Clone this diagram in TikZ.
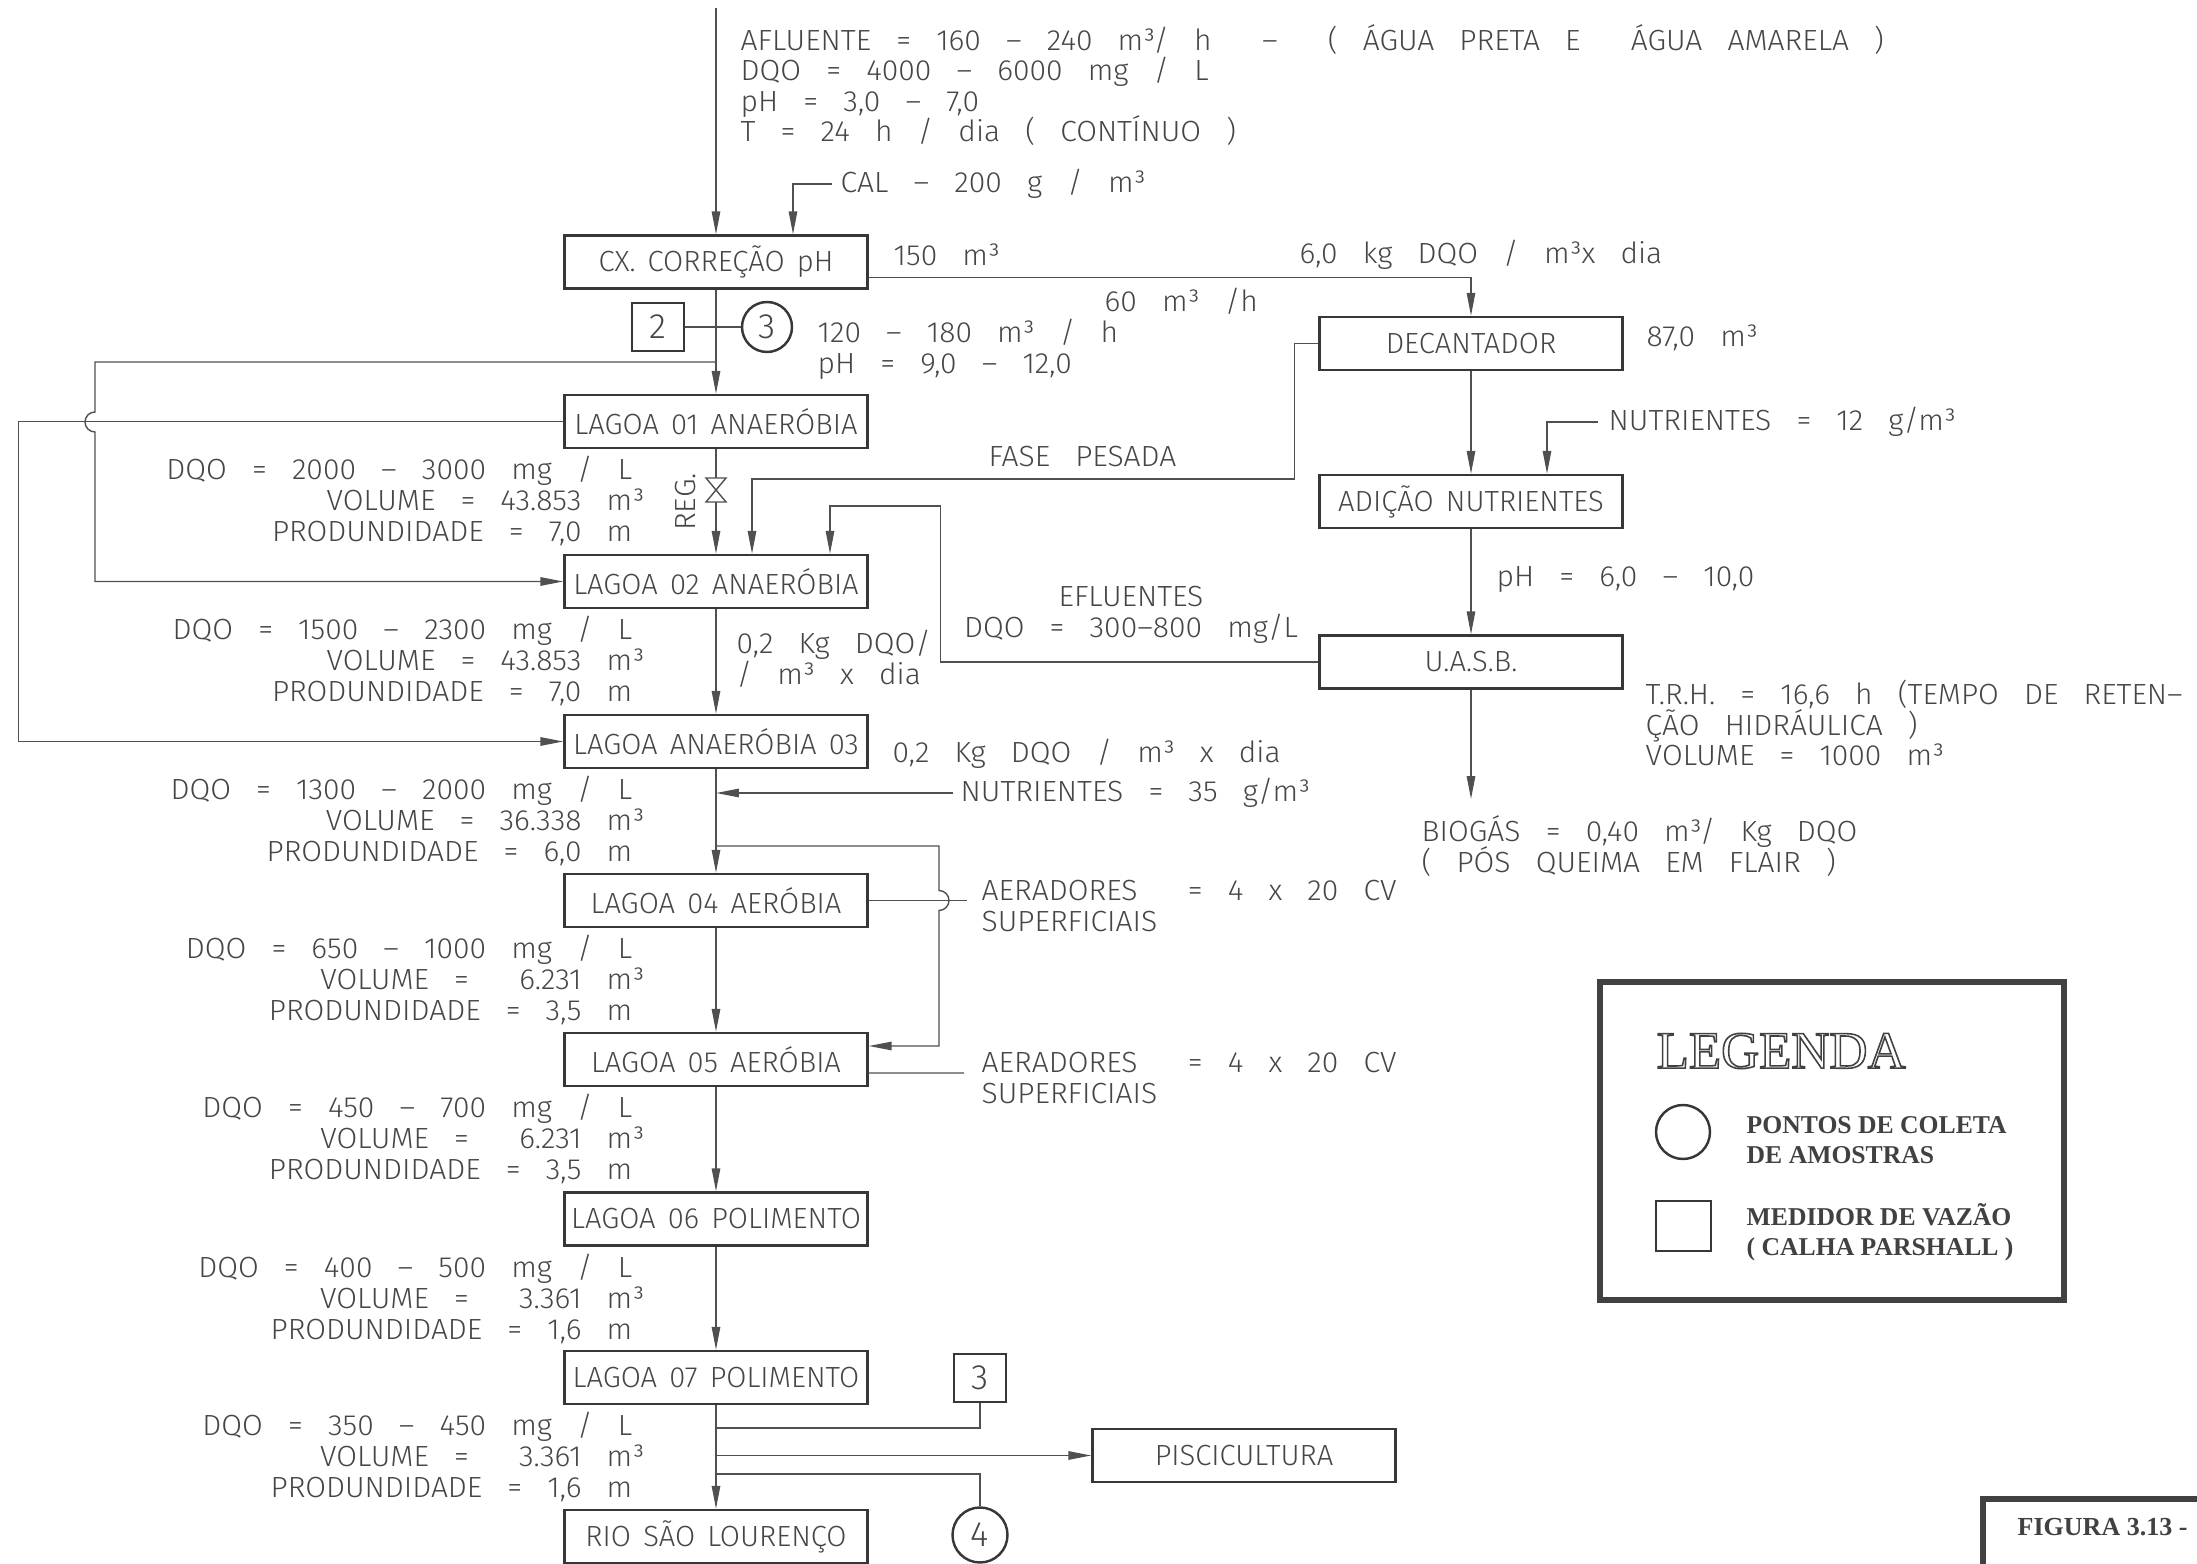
\documentclass[tikz,border=0pt]{standalone}
\usepackage{fontspec}
\usepackage{tikz}
\usetikzlibrary{
  arrows.meta,
  positioning
}
\newfontfamily\cadfont{Fira Sans Light}[WordSpace=3.0,FakeStretch=1.03]
\newfontfamily\boxfont{Fira Sans Light}[WordSpace=1.5]
\newfontfamily\legendfont{Liberation Serif}
\lineskiplimit=-100pt
\newcommand\hollowtext[1]{\special{pdf:literal q 1 Tr 0.45 w}#1\special{pdf:literal Q}}
\definecolor{linecolor}{RGB}{80,80,80}
\definecolor{boxcolor}{RGB}{55,55,55}
\definecolor{labelcolor}{RGB}{70,70,70}
\definecolor{legendcolor}{RGB}{65,65,65}
\tikzset{
blocktext/.style={
  font=\cadfont\fontsize{8.3}{8.7}\selectfont,
  text=labelcolor
},
lagoablock/.style={
  draw=boxcolor,
  line width=0.7pt,
  minimum width=30.3mm,
  minimum height=5.3mm,
  inner sep=0pt,
  font=\boxfont\fontsize{8.3}{8.7}\selectfont,
  text=labelcolor
},
note/.style={
  blocktext,
  inner sep=0pt,
  align=left,
  anchor=west
},
datanote/.style={
  blocktext,
  inner sep=0pt,
  align=right,
  anchor=east
},
meter/.style={
  draw=boxcolor,
  line width=0.7pt,
  minimum width=5.2mm,
  minimum height=4.8mm,
  inner sep=0pt,
  font=\boxfont\fontsize{10}{11}\selectfont,
  text=labelcolor
},
sample/.style={
  draw=boxcolor,
  circle,
  line width=0.7pt,
  minimum size=5mm,
  inner sep=0pt,
  font=\boxfont\fontsize{10}{11}\selectfont,
  text=labelcolor
},
pipe/.style={
  line width=0.4pt,
  draw=linecolor
},
arrow/.style={
  pipe,
  -{Triangle[length=6.5pt,width=2.4pt]}
},
legendframe/.style={
  draw=legendcolor,
  line width=1.7pt,
  inner sep=0pt
},
legendtitle/.style={
  font=\legendfont\fontsize{15}{17}\selectfont,
  text=legendcolor,
  anchor=west,
  inner sep=0pt
},
legendtext/.style={
  font=\legendfont\bfseries\fontsize{7.3}{8.5}\selectfont,
  text=legendcolor,
  align=left,
  anchor=west,
  inner sep=0pt
}
}

\begin{document}
\begin{tikzpicture}[x=0.1mm,y=-0.1mm]
\useasboundingbox (0,0) rectangle (2197,1564);
\clip (0,0) rectangle (2197,1564);

% main line of lagoons
\node[lagoablock] (cx) at (716,262) {CX. CORREÇÃO pH};
\node[lagoablock] (l1) at (716,421.5) {LAGOA 01 ANAERÓBIA};
\node[lagoablock] (l2) at (716,581.5) {LAGOA 02 ANAERÓBIA};
\node[lagoablock] (l3) at (716,741.5) {LAGOA ANAERÓBIA 03};
\node[lagoablock] (l4) at (716,900.5) {LAGOA 04 AERÓBIA};
\node[lagoablock] (l5) at (716,1059.5) {LAGOA 05 AERÓBIA};
\node[lagoablock] (l6) at (716,1219) {LAGOA 06 POLIMENTO};
\node[lagoablock] (l7) at (716,1377.5) {LAGOA 07 POLIMENTO};
\node[lagoablock] (rio) at (716,1536.5) {RIO SÃO LOURENÇO};

% decanter / UASB branch
\node[lagoablock] (dec) at (1471,343.5) {DECANTADOR};
\node[lagoablock] (nut) at (1471,501.5) {ADIÇÃO NUTRIENTES};
\node[lagoablock] (uasb) at (1471,662) {U.A.S.B.};
\node[lagoablock] (pisc) at (1244,1455.5) {PISCICULTURA};

% inflow
\coordinate (inflow) at (716,8);
\node[note] (afluente) at (740,85) {AFLUENTE = 160 – 240 m³/ h \ – \ ( ÁGUA PRETA E \ ÁGUA AMARELA )\\DQO = 4000 – 6000 mg / L\\pH = 3,0 – 7,0\\T = 24 h / dia ( CONTÍNUO )};
\draw[arrow] (inflow) -- (cx.north);
\node[note] (cal) at (840,184) {CAL – 200 g / m³};
\draw[arrow] ([xshift=-0.8mm]cal.west) -| ([xshift=7.7mm]cx.north);

% to decanter
\node[note] (vol150) at (893,255) {150 m³};
\node[note] (carga60) at (1299,255) {6,0 kg DQO / m³x dia};
\node[note] (vazao60) at (1104,301) {60 m³ /h};
\draw[arrow] ([yshift=-1.55mm]cx.east) -| (dec.north);
\node[note] (vol87) at (1646,338) {87,0 m³};
\draw[arrow] (dec.south) -- (nut.north);
\node[note] (nut12) at (1608,422) {NUTRIENTES = 12 g/m³};
\draw[arrow] ([xshift=-1mm]nut12.west) -| ([xshift=7.6mm]nut.north);
\node[note] (phuasb) at (1496,580) {pH = 6,0 – 10,0};
\draw[arrow] (nut.south) -- (uasb.north);
\node[note] (trh) at (1645,723) {T.R.H. = 16,6 h (TEMPO DE RETEN–\\ÇÃO HIDRÁULICA )\\VOLUME = 1000 m³};
\coordinate (biogas) at (1471,799);
\draw[arrow] (uasb.south) -- (biogas);
\node[note] (biotext) at (1421,846) {BIOGÁS = 0,40 m³/ Kg DQO\\( PÓS QUEIMA EM FLAIR )};

% meters after pH correction
\node[meter] (m2) at (658,327) {2};
\node[sample] (c3) at (767,327) {3};
\draw[arrow] (cx.south) -- (l1.north);
\draw[pipe] (m2.east) -- (c3.west);
\node[note] (vazao120) at (817,349) {120 – 180 m³ / h\\pH = 9,0 – 12,0};

% recirculation to lagoons 02 and 03
\coordinate (recirc) at (716,362);
\draw[arrow] (recirc) -- ++(-621,0) -- ++(0,50) arc[start angle=270,end angle=90,radius=10] |- (l2.west);
\draw[arrow] (l1.west) -- ++(-545,0) |- (l3.west);

% lagoon 01 -> 02 with valve
\draw[arrow] (l1.south) -- (l2.north);
\coordinate (valve) at (716,490);
\draw[pipe, fill=white] ([shift={(-10,-12)}]valve) -- ++(20,0) -- ++(-20,24) -- ++(20,0) -- cycle;
\node[blocktext, rotate=90, inner sep=0pt] (reg) at (686,502) {REG.};

% returns from decanter and UASB
\draw[arrow] (dec.west) -- ++(-24,0) -- ++(0,135.5) -| ([xshift=3.6mm]l2.north);
\node[note] (fase) at (988,457) {FASE PESADA};
\draw[arrow] (uasb.west) -- ++(-378,0) -- ++(0,-156) -| ([xshift=11.4mm]l2.north);
\node[blocktext, align=center, inner sep=0pt] (efl) at (1131,615) {EFLUENTES\\DQO = 300–800 mg/L};

% lagoon data
\node[datanote] (dados1) at (633,501) {DQO = 2000 – 3000 mg / L\\VOLUME = 43.853 m\rlap{³}\\PRODUNDIDADE = 7,0 m};
\node[datanote] (dados2) at (633,661) {DQO = 1500 – 2300 mg / L\\VOLUME = 43.853 m\rlap{³}\\PRODUNDIDADE = 7,0 m};
\node[datanote] (dados3) at (633,821) {DQO = 1300 – 2000 mg / L\\VOLUME = 36.338 m\rlap{³}\\PRODUNDIDADE = 6,0 m};
\node[datanote] (dados4) at (633,980) {DQO = 650 – 1000 mg / L\\VOLUME = \ 6.231 m\rlap{³}\\PRODUNDIDADE = 3,5 m};
\node[datanote] (dados5) at (633,1139) {DQO = 450 – 700 mg / L\\VOLUME = \ 6.231 m\rlap{³}\\PRODUNDIDADE = 3,5 m};
\node[datanote] (dados6) at (633,1299) {DQO = 400 – 500 mg / L\\VOLUME = \ 3.361 m\rlap{³}\\PRODUNDIDADE = 1,6 m};
\node[datanote] (dados7) at (633,1457) {DQO = 350 – 450 mg / L\\VOLUME = \ 3.361 m\rlap{³}\\PRODUNDIDADE = 1,6 m};

% lagoons 02 -> 03 -> 04
\draw[arrow] (l2.south) -- (l3.north);
\node[note] (carga02) at (736,659) {0,2 Kg DQO/\\/ m³ x dia};
\node[note] (carga03) at (892,754) {0,2 Kg DQO / m³ x dia};
\draw[arrow] (l3.south) -- (l4.north);
\node[note] (nut35) at (960,793) {NUTRIENTES = 35 g/m³};
\draw[arrow] ([xshift=-0.7mm]nut35.west) -- (nut35.west -| l3.south);

% aerated lagoons
\coordinate (aer) at (716,846);
\draw[arrow] (aer) -- ++(223,0) -- ++(0,44.5) arc[start angle=-90,end angle=90,radius=10] |- ([yshift=1.35mm]l5.east);
\coordinate (aer4end) at (967,900.5);
\draw[pipe] (l4.east) -- (aer4end);
\node[note] (aer4) at (981,906) {AERADORES \ = 4 x 20 CV\\SUPERFICIAIS};
\draw[arrow] (l4.south) -- (l5.north);
\coordinate (aer5end) at (964,1073);
\draw[pipe] ([yshift=-1.35mm]l5.east) -- (aer5end);
\node[note] (aer5) at (981,1078) {AERADORES \ = 4 x 20 CV\\SUPERFICIAIS};
\draw[arrow] (l5.south) -- (l6.north);
\draw[arrow] (l6.south) -- (l7.north);
\draw[arrow] (l7.south) -- (rio.north);

% final outlets
\node[meter] (m3) at (980,1378) {3};
\node[sample, minimum size=5.5mm] (c4) at (980,1535) {4};
\coordinate (out1) at (716,1428);
\coordinate (out2) at (716,1455.5);
\coordinate (out3) at (716,1474);
\draw[pipe] (out1) -| (m3.south);
\draw[arrow] (out2) -- (pisc.west);
\draw[pipe] (out3) -| (c4.north);

% legend
\node[legendframe, minimum width=46.4mm, minimum height=31.8mm] (legenda) at (1832,1141) {};
\node[legendtitle] (legtitle) at (1656,1051) {\hollowtext{LEGENDA}};
\node[sample, minimum size=5.4mm] (legcirc) at (1683,1132) {};
\node[legendtext] (legcirctext) at (1746,1140) {PONTOS DE COLETA\\DE AMOSTRAS};
\node[meter, minimum width=5.5mm, minimum height=5mm] (legsq) at (1683.5,1226) {};
\node[legendtext] (legsqtext) at (1746,1232) {MEDIDOR DE VAZÃO\\( CALHA PARSHALL )};
\node[legendframe, minimum width=30mm, minimum height=12mm, anchor=north west] (figura) at (1980,1496) {};
\node[legendtext, font=\legendfont\bfseries\fontsize{7.4}{9}\selectfont] (figtext) at (2017,1527) {FIGURA 3.13 -};
\end{tikzpicture}
\end{document}
